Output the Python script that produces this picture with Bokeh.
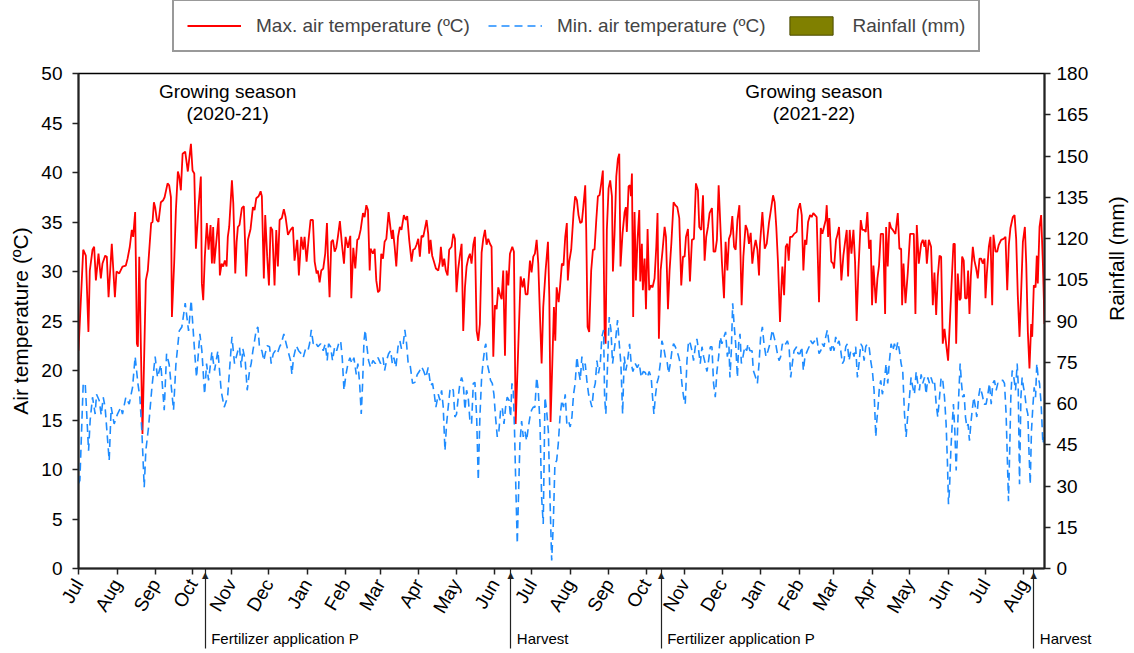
import math
import datetime as dt
from bokeh.plotting import figure
from bokeh.layouts import column
from bokeh.models import (Range1d, LinearAxis, FixedTicker, Legend, LegendItem,
                          Label, ColumnDataSource)
from bokeh.embed import file_html
from bokeh.resources import INLINE

# ---------------- data (days since 1 Jul 2020, value) ----------------
START = dt.date(2020, 7, 1)
END_DAY = 777.6

tmax = [(0,22.0),(3.8,32.2),(5.9,31.6),(8.0,23.9),(9.1,30.1),(11.3,32.2),(12.6,32.5),(14.0,29.1),(16.1,31.8),(18.0,29.3),(19.3,30.8),(21.5,31.6),(22.8,31.5),(24.2,27.4),(26.8,32.8),(29.3,27.4),(30.6,30.0),(32.8,29.8),(35.4,30.5),(38.1,30.6),(39.5,31.3),(41.3,32.5),(42.9,34.2),(44.0,33.5),(45.6,36.0),(46.2,30.8),(47.0,22.7),(47.8,22.4),(48.9,31.5),(51.5,13.6),(54.2,29.1),(55.8,30.1),(58.5,34.9),(59.6,35.0),(60.7,37.0),(61.7,36.5),(63.1,35.2),(64.4,35.0),(66.3,37.0),(68.2,37.2),(69.3,37.5),(71.7,38.9),(73.0,38.7),(74.4,37.5),(75.2,25.4),(77.0,30.8),(78.4,36.2),(80.0,40.1),(81.1,39.6),(82.4,38.2),(83.8,41.9),(85.9,42.1),(88.0,40.1),(90.5,42.9),(91.8,40.2),(93.2,39.9),(94.5,32.3),(96.6,36.5),(98.5,39.6),(99.3,28.8),(100.4,27.1),(101.7,31.5),(103.3,34.9),(104.7,32.2),(106.3,34.7),(107.4,30.8),(108.4,34.5),(109.3,30.8),(112.7,35.4),(113.8,29.6),(115.2,30.8),(116.5,30.5),(117.8,31.1),(119.2,30.5),(120.2,33.5),(121.3,34.5),(123.5,39.2),(124.6,36.9),(126.2,29.8),(127.3,33.0),
        (128.3,34.5),(129.6,34.7),(131.5,36.4),(133.1,36.6),(135.0,29.5),(136.4,33.2),(138.5,34.3),(140.4,36.5),(141.7,36.2),(143.1,37.4),(145.0,37.6),(146.6,38.1),(147.6,37.6),(149.2,29.3),(150.3,35.7),(151.9,31.5),(153.3,28.6),(154.6,34.5),(156.0,34.2),(157.8,28.6),(159.2,34.2),(160.5,30.5),(161.9,35.2),(163.7,35.4),(165.3,36.3),(166.7,35.5),(168.6,33.7),(170.7,34.2),(172.6,34.5),(173.9,31.1),(176.1,33.2),(177.4,29.6),(179.3,33.5),(180.9,32.2),(182.0,33.5),(183.6,31.0),(185.2,33.2),(186.8,35.2),(188.7,35.2),(190.1,31.0),(191.7,29.8),(192.7,30.1),(194.1,28.9),(195.4,30.1),(197.0,30.3),(198.6,31.8),(200.0,34.9),(200.8,31.5),(202.1,27.4),(203.5,33.0),(204.8,33.2),(206.2,32.0),(207.5,32.4),(208.8,33.5),(210.4,35.1),(212.1,32.7),(213.7,30.8),(215.0,33.5),(216.9,32.4),(218.8,33.6),(219.6,27.3),(221.2,32.4),(222.8,30.3),(224.4,33.2),(225.5,33.3),(227.1,34.2),(229.0,35.9),(230.3,35.5),(231.7,36.7),(233.0,36.2),(234.4,30.1),(235.1,32.3),(237.0,31.8),(238.4,32.3),(239.7,29.1),(241.1,27.9),(242.4,28.1),(243.7,31.8),(245.1,31.3),(246.4,33.0),(247.8,33.3),(249.6,36.0),(251.3,34.2),(252.3,33.3),(253.1,34.2),(254.5,32.5),(255.8,30.5),(257.2,33.5),
        (258.7,34.5),(260.0,34.2),(261.9,35.7),(263.5,35.2),(264.6,35.6),(266.2,33.2),(268.1,31.0),(269.4,32.2),(270.8,32.3),(272.1,32.7),(273.5,33.3),(274.8,31.5),(276.1,33.6),(277.5,33.5),(278.8,34.3),(280.2,35.2),(281.5,33.8),(282.3,31.8),(283.4,33.2),(284.7,31.6),(286.1,31.0),(287.7,30.3),(289.6,30.1),(290.9,31.0),(291.7,32.5),(293.1,30.5),(294.4,31.3),(295.7,30.1),(297.1,29.6),(298.4,32.2),(300.3,32.5),(301.7,33.8),(303.0,33.3),(304.3,27.9),(305.7,30.3),(307.0,31.6),(308.4,32.8),(309.7,24.0),(311.1,28.4),(312.4,30.5),(313.7,31.3),(315.1,31.8),(316.4,30.8),(317.8,32.7),(319.1,33.5),(320.5,24.0),(321.8,23.0),(323.1,24.7),(324.5,31.9),(325.8,33.3),(327.2,34.2),(328.5,32.7),(329.8,33.3),(331.2,32.8),(332.5,32.5),(333.9,21.4),(335.2,26.6),(336.6,26.2),(337.9,28.4),(339.2,27.7),(340.6,27.2),(341.9,30.1),(343.3,21.5),(344.6,30.1),(346.0,28.6),(347.3,31.8),(349.2,32.5),(350.5,32.0),(351.9,14.6),(354.0,22.4),(355.9,29.5),(357.5,28.4),(358.6,29.3),(359.9,27.7),(361.5,27.7),(363.4,31.1),(364.7,29.9),(366.1,31.5),(367.4,31.8),(368.8,33.2),(370.1,30.8),(371.5,25.4),(372.8,20.7),(374.1,26.4),(376.0,30.1),(377.9,33.0),(379.0,27.4),(380.0,14.8),(381.4,20.7),(382.7,26.4),(383.8,23.0),(384.9,28.4),(386.5,26.9),(387.6,28.4),
        (389.1,30.8),(390.4,30.6),(391.8,33.5),(393.1,34.9),(393.9,29.1),(395.0,31.0),(396.6,32.2),(398.5,35.9),(399.8,37.6),(401.2,37.2),(402.5,35.7),(403.9,34.9),(405.2,35.0),(406.5,36.7),(407.9,38.7),(408.7,34.2),(409.8,24.4),(411.1,23.9),(412.7,30.1),(414.1,32.2),(415.4,32.2),(416.8,35.2),(418.1,37.6),(419.4,37.7),(420.8,38.9),(422.1,40.2),(422.7,32.5),(423.5,24.0),(424.3,22.7),(425.3,34.2),(426.7,38.4),(428.0,39.2),(429.4,37.6),(430.2,30.0),(431.5,33.8),(432.9,39.6),(434.2,41.4),(435.3,41.9),(436.3,30.5),(437.9,33.8),(439.6,36.0),(440.6,36.5),(441.4,34.0),(442.8,38.6),(444.1,38.7),(444.7,37.6),(445.5,39.9),(446.5,25.4),(447.6,36.0),(448.7,29.1),(450.0,33.2),(451.4,36.2),(452.2,29.0),(453.5,32.8),(454.3,28.1),(455.7,31.3),(456.8,26.2),(458.1,34.3),(459.4,28.1),(460.8,28.6),(462.1,28.4),(463.7,29.3),(465.1,32.5),(466.1,35.9),(467.2,23.2),(468.6,30.1),(470.2,32.2),(471.8,34.5),(472.9,33.5),(474.5,26.2),(475.8,30.1),(477.2,32.8),(479.0,37.0),(480.4,36.7),(482.0,36.5),(483.6,35.4),(485.2,28.6),(486.6,31.5),(487.9,31.5),(489.0,33.5),(490.6,34.3),(492.2,29.0),(493.8,33.2),(495.4,33.3),(497.0,38.9),(498.6,38.2),(499.7,34.5),(501.3,34.2),(502.7,37.7),(504.0,31.1),(505.3,33.5),(506.7,34.5),(508.0,35.9),(509.9,36.4),(511.2,32.0),(512.6,32.0),(513.9,33.2),(515.3,38.7),(516.6,34.9),(517.9,31.0),
        (519.6,27.3),(520.9,33.0),(522.3,30.1),(523.6,33.3),(525.0,33.8),(526.3,35.6),(527.7,32.5),(529.0,32.2),(530.4,35.2),(532.0,36.7),(533.8,26.6),(535.2,31.5),(537.0,34.7),(538.4,34.2),(539.7,32.8),(541.1,33.9),(542.4,30.8),(543.8,32.3),(545.1,33.2),(546.5,32.2),(547.8,29.6),(548.6,32.8),(550.5,36.0),(552.4,32.3),(554.0,32.8),(555.8,34.9),(557.7,36.5),(559.1,37.7),(560.4,37.0),(561.7,34.5),(563.1,30.8),(564.7,24.9),(565.8,28.4),(566.6,30.5),(568.0,27.6),(569.3,32.5),(570.6,32.8),(571.7,31.1),(572.8,33.5),(574.4,33.5),(576.0,33.8),(578.1,34.0),(579.2,36.2),(580.8,36.9),(582.2,35.7),(583.5,30.1),(584.8,33.2),(585.9,32.7),(587.3,35.0),(588.9,35.7),(590.2,35.5),(591.5,35.9),(592.9,35.7),(594.2,35.5),(596.1,26.9),(597.5,34.4),(598.8,33.8),(600.1,34.5),(601.5,35.2),(602.3,36.7),(603.4,33.5),(604.4,35.4),(606.0,31.0),(607.4,30.8),(608.2,30.3),(609.8,33.2),(610.9,33.7),(612.2,34.5),(614.1,29.1),(615.7,31.6),(617.1,33.0),(618.4,34.2),(619.5,29.5),(620.8,34.2),(622.2,31.8),(623.8,34.2),(625.1,31.0),(626.4,25.0),(627.8,30.1),(629.7,35.2),(631.0,34.2),(632.4,34.2),(633.7,34.0),(635.0,36.0),(636.4,32.3),(637.7,33.2),(638.8,26.6),(639.9,30.6),(641.8,26.8),(643.1,29.3),(644.4,30.6),(645.8,33.8),(647.7,33.8),(649.3,25.7),
        (650.1,34.5),(651.4,30.5),(652.8,35.0),(654.1,34.4),(655.5,34.2),(657.6,33.8),(659.5,35.9),(660.8,32.3),(662.2,32.3),(663.0,26.6),(664.1,30.8),(665.7,26.8),(667.5,29.8),(669.4,33.8),(671.0,33.8),(672.4,33.8),(673.7,25.7),(674.8,34.7),(676.4,30.8),(678.3,32.8),(679.6,33.2),(681.0,32.5),(681.8,33.2),(682.9,30.8),(684.5,33.2),(686.3,32.5),(687.7,26.6),(689.0,29.9),(690.4,25.6),(691.7,29.5),(693.1,31.6),(694.4,31.5),(695.7,22.7),(697.1,24.2),(698.4,22.7),(700.0,21.0),(701.6,25.4),(703.3,30.1),(704.3,32.8),(705.4,32.8),(706.5,22.7),(707.8,29.8),(709.2,27.1),(710.2,27.3),(711.3,31.5),(712.6,31.1),(713.7,27.3),(715.1,27.3),(716.1,30.1),(717.2,25.7),(718.3,29.5),(719.9,32.5),(721.2,31.1),(722.6,30.3),(723.9,29.3),(725.3,31.3),(726.6,31.3),(727.9,30.8),(729.3,31.3),(730.1,27.3),(731.2,29.8),(732.8,32.5),(734.1,33.5),(735.5,26.6),(736.5,33.7),(738.2,32.0),(739.5,32.0),(740.8,32.7),(742.7,33.2),(744.6,33.3),(746.2,33.5),(747.6,28.1),(748.9,32.7),(750.2,34.4),(752.1,35.5),(753.5,35.7),(754.8,33.3),(756.1,27.6),(757.5,23.4),(758.8,27.9),(760.2,33.0),(761.8,34.5),(762.9,30.8),(764.2,23.9),(765.5,20.2),(766.9,24.7),(767.7,23.4),(769.0,28.6),(770.4,28.4),(771.4,31.6),(772.2,28.8),(773.6,34.5),(774.9,35.7),(776.3,30.8),(777.6,24.7)]

tmin = [(0,8.6),(1.1,8.9),(3.8,18.7),(5.4,18.7),(8.1,11.9),(9.4,15.0),(11.3,17.3),(13.4,15.6),(14.5,17.6),(16.6,17.0),(18.3,15.5),(19.9,17.3),(21.4,16.3),(24.7,10.9),(26.3,16.3),(28.7,14.6),(31.4,15.6),(34.1,16.3),(35.4,15.6),(38.1,17.3),(40.8,16.6),(43.5,18.3),(45.6,21.4),(47.8,18.7),(49.4,17.3),(51.0,13.9),(52.9,8.2),(54.2,11.9),(56.4,14.3),(59.1,18.3),(61.7,21.4),(63.6,19.3),(66.3,20.6),(69.0,16.0),(70.9,21.7),(73.0,20.6),(76.5,16.0),(78.4,20.6),(81.1,24.0),(83.2,24.4),(85.9,26.8),(88.6,24.0),(90.7,27.1),(93.2,22.4),(95.0,19.3),(97.7,23.7),(99.3,22.0),(101.5,17.6),(103.1,20.7),(104.7,19.0),(107.4,21.9),(109.5,20.0),(112.2,22.0),(114.9,17.9),(117.3,16.3),(120.0,17.3),(123.5,23.4),(125.6,20.7),
        (128.3,22.0),(129.6,22.4),(131.0,20.3),(132.3,22.2),(134.2,21.0),(135.8,18.0),(137.7,20.0),(139.0,20.7),(140.4,22.0),(141.7,23.0),(143.1,24.1),(144.4,24.4),(145.8,22.2),(147.6,22.0),(149.2,21.0),(150.3,21.7),(151.9,22.5),(153.8,22.4),(155.1,20.7),(156.8,21.7),(158.4,22.0),(160.0,21.7),(161.9,22.4),(163.2,22.7),(165.3,23.7),(167.2,22.7),(168.6,22.0),(170.7,21.0),(171.8,19.6),(173.1,21.3),(175.3,22.5),(177.2,22.0),(179.3,21.7),(180.9,21.3),(182.8,22.2),(184.7,22.0),(186.0,22.7),(187.4,24.1),(189.0,22.7),(190.6,22.9),(192.7,22.4),(194.9,22.7),(197.0,22.0),(198.6,22.7),(200.2,21.0),(201.3,22.7),(202.9,22.4),(204.5,21.0),(206.2,22.4),(207.8,22.0),(209.4,22.7),(211.0,23.0),(212.3,21.3),(213.7,18.0),(215.3,19.6),(216.9,20.7),(218.5,21.3),(220.1,20.7),(221.7,21.3),(223.6,19.6),(224.9,20.7),(226.3,18.7),(227.6,15.6),(228.7,18.7),(229.8,23.0),(230.8,24.1),(231.9,22.7),(233.5,21.0),(235.1,20.3),(237.0,21.0),(238.9,20.7),(241.1,21.3),(243.2,20.7),(245.1,21.3),(246.4,20.0),(248.0,21.0),(249.6,21.7),(251.3,22.0),(252.6,20.7),(253.9,21.3),(255.5,20.3),(257.2,22.4),
        (258.7,23.0),(260.0,22.2),(261.4,22.7),(262.7,24.1),(264.1,22.7),(265.4,20.7),(266.8,20.7),(268.9,18.7),(270.8,18.8),(272.7,19.6),(274.3,19.9),(276.1,20.4),(278.0,19.9),(279.6,19.3),(281.5,20.3),(283.4,18.5),(285.0,18.7),(286.4,17.6),(287.7,16.3),(289.6,17.6),(290.9,17.0),(292.3,18.0),(293.6,16.3),(295.0,11.9),(296.3,14.6),(297.6,16.3),(299.0,18.0),(300.3,18.3),(301.7,18.0),(303.0,15.3),(304.3,15.6),(305.7,17.3),(307.0,18.7),(308.4,19.3),(309.7,18.7),(311.1,16.0),(312.4,18.0),(313.7,17.3),(315.1,14.9),(316.4,14.6),(317.8,18.7),(319.1,18.8),(320.5,15.3),(321.8,8.9),(323.1,15.3),(324.5,19.3),(325.8,21.0),(327.2,22.4),(327.9,22.7),(329.0,20.7),(330.4,19.9),(331.7,19.0),(333.1,18.7),(334.4,17.6),(335.7,15.3),(337.1,13.3),(338.4,13.9),(339.8,16.0),(341.1,16.3),(342.5,14.6),(343.8,16.3),(345.1,17.3),(346.5,17.0),(347.8,15.3),(348.9,18.7),(350.0,18.0),(351.0,13.9),(352.1,7.9),(353.2,2.5),(354.3,7.9),(355.3,12.6),(356.7,14.9),(358.0,13.3),(359.4,13.9),(360.7,12.9),(362.1,14.3),(363.4,15.3),(364.7,16.0),(366.1,16.3),(367.4,16.3),(368.8,19.3),(370.1,18.0),(371.5,14.6),(372.8,7.2),(374.1,4.5),(375.5,17.3),(376.8,16.0),(378.2,13.9),(379.5,7.2),(380.9,0.8),(382.2,4.5),(383.5,10.6),(384.9,10.9),(386.2,12.6),(387.6,15.3),
        (389.1,17.0),(390.4,16.3),(391.8,17.6),(393.1,14.6),(394.5,14.9),(395.8,14.3),(397.2,15.3),(398.5,17.6),(399.8,18.7),(401.2,21.4),(402.5,20.0),(403.9,19.0),(405.2,21.4),(406.5,20.0),(407.9,20.7),(409.2,19.0),(410.6,17.6),(411.9,17.0),(413.3,16.3),(414.6,18.0),(416.0,18.7),(417.3,21.0),(418.6,19.7),(420.0,20.7),(421.3,23.4),(422.7,24.1),(423.5,17.3),(424.5,15.6),(425.9,20.7),(427.2,25.4),(428.6,24.1),(429.9,20.7),(431.2,22.0),(432.6,23.4),(433.9,25.1),(435.3,22.7),(436.6,20.7),(438.0,15.6),(439.3,21.4),(440.6,20.0),(442.0,21.0),(443.6,22.7),(444.9,20.7),(446.3,19.9),(448.2,20.7),(449.8,20.3),(451.4,20.7),(453.0,19.3),(454.6,19.9),(456.2,19.8),(457.8,19.3),(459.4,19.9),(461.0,19.3),(462.1,17.3),(463.2,15.6),(464.3,17.3),(465.6,18.7),(466.9,19.3),(468.3,20.7),(469.6,23.0),(471.0,22.4),(472.3,21.4),(473.7,21.0),(475.0,19.7),(476.4,20.7),(477.7,22.0),(479.0,22.7),(480.4,22.4),(481.7,22.0),(483.1,21.4),(484.4,20.7),(485.7,18.7),(487.1,17.3),(488.4,16.6),(489.8,21.0),(491.1,23.0),(492.5,22.7),(493.8,22.0),(495.1,21.0),(496.5,22.4),(497.8,23.2),(499.2,22.0),(500.5,20.7),(501.9,22.4),(503.2,21.4),(504.5,20.7),(505.9,19.9),(507.2,21.0),(508.6,22.4),(509.9,22.4),(511.2,18.7),(512.6,17.3),(513.9,19.9),(515.3,21.4),(516.6,23.4),(517.9,22.7),
        (519.6,23.4),(520.9,23.9),(522.3,21.4),(523.6,22.4),(524.4,19.3),(525.5,22.0),(526.6,26.8),(527.7,24.7),(529.0,22.7),(530.4,19.3),(531.4,22.7),(532.5,23.7),(533.6,20.7),(534.9,21.4),(536.3,22.4),(537.9,22.0),(538.9,22.7),(540.5,22.0),(542.2,22.0),(543.2,20.0),(545.1,19.3),(546.5,18.7),(547.8,20.7),(549.1,23.4),(550.5,24.4),(551.8,22.7),(553.4,21.4),(555.0,22.0),(556.6,22.7),(558.5,24.1),(559.9,23.4),(561.2,22.7),(562.6,21.7),(563.9,21.0),(565.2,21.4),(566.6,22.7),(567.9,22.4),(569.3,22.7),(570.6,23.0),(572.0,22.4),(573.3,19.3),(574.6,20.7),(576.0,22.0),(578.1,22.4),(579.2,21.7),(580.8,21.7),(582.2,22.4),(583.5,20.0),(584.8,21.4),(586.7,22.0),(588.1,22.4),(589.4,23.0),(591.0,22.7),(592.6,23.0),(594.2,23.4),(596.1,21.7),(597.5,22.0),(598.8,22.7),(600.1,22.4),(601.5,23.4),(602.8,24.1),(604.2,22.7),(605.5,22.0),(606.9,22.7),(608.2,22.0),(609.5,23.4),(610.9,22.7),(612.2,23.0),(613.6,22.0),(614.9,20.7),(616.2,21.0),(617.6,22.4),(618.9,22.7),(620.3,21.0),(621.6,22.0),(623.0,22.0),(624.3,21.4),(625.6,22.4),(627.0,19.3),(628.3,20.7),(629.7,22.7),(631.0,22.4),(632.4,21.0),(633.7,22.4),(635.0,22.7),(636.4,22.4),(637.7,21.0),(639.1,19.9),(640.4,18.0),(641.8,13.3),(642.6,14.9),(643.6,16.3),(644.7,18.3),(645.8,19.0),(647.1,17.6),(648.5,18.7),
        (650.1,20.7),(651.4,18.7),(652.8,21.0),(654.1,22.7),(655.5,22.0),(656.8,22.7),(658.2,22.0),(659.5,22.9),(660.8,22.0),(662.2,20.7),(663.5,19.9),(664.9,15.6),(666.2,13.3),(667.6,15.6),(668.9,17.3),(670.2,19.3),(671.6,18.3),(672.9,17.6),(674.3,19.9),(675.6,18.7),(676.9,18.0),(678.3,19.6),(679.6,18.7),(681.0,19.3),(682.3,17.6),(683.7,19.3),(685.0,18.7),(686.3,19.3),(687.7,18.7),(689.0,19.0),(690.4,16.6),(691.7,15.3),(693.1,17.3),(694.4,19.3),(695.7,19.0),(697.1,17.3),(698.4,14.6),(699.5,10.6),(700.3,6.5),(701.1,7.9),(702.2,11.9),(703.3,14.6),(704.3,16.6),(705.4,13.9),(706.5,9.9),(707.6,13.9),(708.6,17.6),(709.7,20.7),(710.8,18.7),(711.8,17.3),(712.9,17.6),(714.0,15.3),(715.1,14.3),(716.1,14.6),(717.2,12.9),(718.3,14.6),(719.4,16.0),(720.7,17.3),(722.0,16.3),(723.1,15.3),(724.5,17.3),(725.8,18.3),(727.4,17.6),(729.0,16.6),(730.6,16.6),(732.0,17.6),(733.3,18.7),(734.7,16.6),(736.0,18.7),(737.3,19.0),(738.7,18.0),(740.0,18.7),(741.4,18.7),(742.7,19.0),(744.1,19.0),(745.4,18.7),(746.7,15.6),(747.8,10.6),(748.6,6.8),(749.4,10.9),(750.5,17.3),(751.6,20.0),(752.9,19.3),(754.3,18.0),(755.6,20.7),(756.4,18.7),(757.5,8.5),(758.6,17.3),(759.6,19.3),(760.7,18.3),(761.8,17.6),(762.9,16.3),(764.2,15.6),(765.0,12.2),(766.1,8.5),(767.1,13.9),(768.2,16.3),(769.3,18.3),(770.4,17.3),(771.4,20.7),(772.5,19.3),(773.6,18.7),(774.9,16.6),(776.3,12.6),(777.3,13.3)]

# no rainfall bars are visible in the chart (legend entry only)
rain_day = []
rain_mm = []

events_day = [102, 348, 469, 769]
events_text = ["Fertilizer application P", "Harvest", "Fertilizer application P", "Harvest"]
season_day = [120, 592]
season_text = ["Growing season", "Growing season"]
season_years = ["(2020-21)", "(2021-22)"]

FONT = "Liberation Sans"
RED, BLUE, OLIVE = "#ff0000", "#1e8cff", "#808000"
DARK = "#222222"
TOTAL_W = 1133
LEG_H = 58
NAN = float("nan")

# ---------------- legend strip (own small canvas above the chart) ----------------
lg = figure(width=TOTAL_W, height=LEG_H, x_range=Range1d(0, 1), y_range=Range1d(0, 1),
            output_backend="svg", toolbar_location=None, min_border=0)
lg.axis.visible = False
lg.grid.visible = False
lg.outline_line_color = None
lr_max = lg.line(x=[NAN], y=[NAN], line_color=RED, line_width=1.8)
lr_min = lg.line(x=[NAN], y=[NAN], line_color=BLUE, line_width=1.6, line_dash="8 5")
lr_rain = lg.vbar(x=[NAN], top=[NAN], width=0.5, fill_color=OLIVE, line_color="#4a4a00")
legend = Legend(items=[LegendItem(label="Max. air temperature (ºC)", renderers=[lr_max]),
                       LegendItem(label="Min. air temperature (ºC)", renderers=[lr_min]),
                       LegendItem(label="Rainfall (mm)", renderers=[lr_rain])],
                orientation="horizontal", location=(94, LEG_H - 52),
                glyph_width=54, glyph_height=23, label_standoff=15, spacing=18,
                padding=13, margin=0,
                label_text_font=FONT, label_text_font_size="19px",
                border_line_color="#333333", border_line_width=2,
                background_fill_alpha=1.0, background_fill_color="white")
lg.add_layout(legend, "center")

# ---------------- main chart ----------------
p = figure(frame_width=966, frame_height=495,
           x_range=Range1d(0, END_DAY), y_range=Range1d(0, 50),
           output_backend="svg", toolbar_location=None, x_axis_location=None,
           min_border_left=78, min_border_right=89, min_border_top=73 - LEG_H,
           min_border_bottom=82)
p.extra_y_ranges = {"rain": Range1d(0, 180)}
p.grid.visible = False
p.outline_line_color = "black"
p.outline_line_width = 1.5

src_max = ColumnDataSource(dict(x=[d for d, _ in tmax], y=[v for _, v in tmax]))
src_min = ColumnDataSource(dict(x=[d for d, _ in tmin], y=[v for _, v in tmin]))
src_rain = ColumnDataSource(dict(x=rain_day, top=rain_mm))

p.vbar(x="x", top="top", width=0.8, source=src_rain, y_range_name="rain",
       fill_color=OLIVE, line_color="#4a4a00", line_width=1)
p.line("x", "y", source=src_max, line_color=RED, line_width=1.8)
p.line("x", "y", source=src_min, line_color=BLUE, line_width=1.6, line_dash="8 5")

month_ticks, month_labels = [], {}
y, m = 2020, 7
while True:
    d = (dt.date(y, m, 1) - START).days
    if d > END_DAY:
        break
    month_ticks.append(d)
    month_labels[d] = dt.date(y, m, 1).strftime("%b")
    m += 1
    if m > 12:
        m, y = 1, y + 1

common = dict(minor_tick_line_color=None, major_label_text_font=FONT, major_label_text_color="black",
              axis_label_text_font=FONT, axis_label_text_font_size="21px",
              axis_label_text_font_style="normal", axis_label_text_color="black")

# x axis, part 1: axis line, month tick marks (minor), event arrows (long major ticks + heads)
ax_line = LinearAxis(ticker=FixedTicker(ticks=events_day, minor_ticks=month_ticks),
                     major_label_overrides={d: "\u25b2" for d in events_day},
                     major_label_orientation="horizontal",
                     axis_line_color=DARK, axis_line_width=2,
                     major_tick_out=80, major_tick_in=0,
                     major_tick_line_color=DARK, major_tick_line_width=1.2,
                     minor_tick_out=6, minor_tick_in=0,
                     minor_tick_line_color=DARK, minor_tick_line_width=1.5,
                     major_label_standoff=-80, major_label_text_font=FONT,
                     major_label_text_font_size="11px", major_label_text_color=DARK)
p.add_layout(ax_line, "below")

# x axis, part 2: month labels
ax_month = LinearAxis(ticker=FixedTicker(ticks=month_ticks), major_label_overrides=month_labels,
                      major_label_orientation=math.pi / 3, axis_line_color=None,
                      major_tick_line_color=None, major_tick_out=0, major_tick_in=0,
                      major_label_standoff=-3, major_label_text_font_size="19px",
                      **common)
p.add_layout(ax_month, "below")

# x axis, part 3: event names, left-aligned at the arrows
ax_event = LinearAxis(ticker=FixedTicker(ticks=events_day),
                      major_label_overrides={d: "\u2009\u2009" + t for d, t in zip(events_day, events_text)},
                      major_label_orientation=-1e-6, axis_line_color=None,
                      major_tick_line_color=None, major_tick_out=0, major_tick_in=0,
                      major_label_standoff=13, major_label_text_font_size="15px",
                      **common)
p.add_layout(ax_event, "below")

ya = p.yaxis[0]
ya.ticker = FixedTicker(ticks=list(range(0, 51, 5)))
ya.axis_label = "Air temperature (ºC)"
ra = LinearAxis(y_range_name="rain", ticker=FixedTicker(ticks=list(range(0, 181, 15))),
                axis_label="Rainfall (mm)")
p.add_layout(ra, "right")
for ax in (ya, ra):
    ax.axis_line_color = DARK
    ax.axis_line_width = 2
    ax.major_tick_line_color = DARK
    ax.major_tick_line_width = 1.5
    ax.major_tick_out = 6
    ax.major_tick_in = 0
    ax.minor_tick_line_color = None
    ax.major_label_text_font = FONT
    ax.major_label_text_font_size = "19px"
    ax.major_label_text_color = "black"
    ax.axis_label_text_font = FONT
    ax.axis_label_text_font_size = "21px"
    ax.axis_label_text_font_style = "normal"
    ax.axis_label_text_color = "black"
ya.major_label_standoff = 10
ya.axis_label_standoff = 6
ra.major_label_standoff = 6
ra.axis_label_standoff = 25
ra.axis_label_orientation = math.pi / 2

for d, t1, t2 in zip(season_day, season_text, season_years):
    p.add_layout(Label(x=d, y=48.2, text=t1, text_align="center", text_baseline="middle",
                       text_font=FONT, text_font_size="19px", text_color="black"))
    p.add_layout(Label(x=d, y=46.0, text=t2, text_align="center", text_baseline="middle",
                       text_font=FONT, text_font_size="19px", text_color="black"))

layout = column(lg, p, spacing=0)
open("out.html", "w").write(file_html(layout, INLINE))
